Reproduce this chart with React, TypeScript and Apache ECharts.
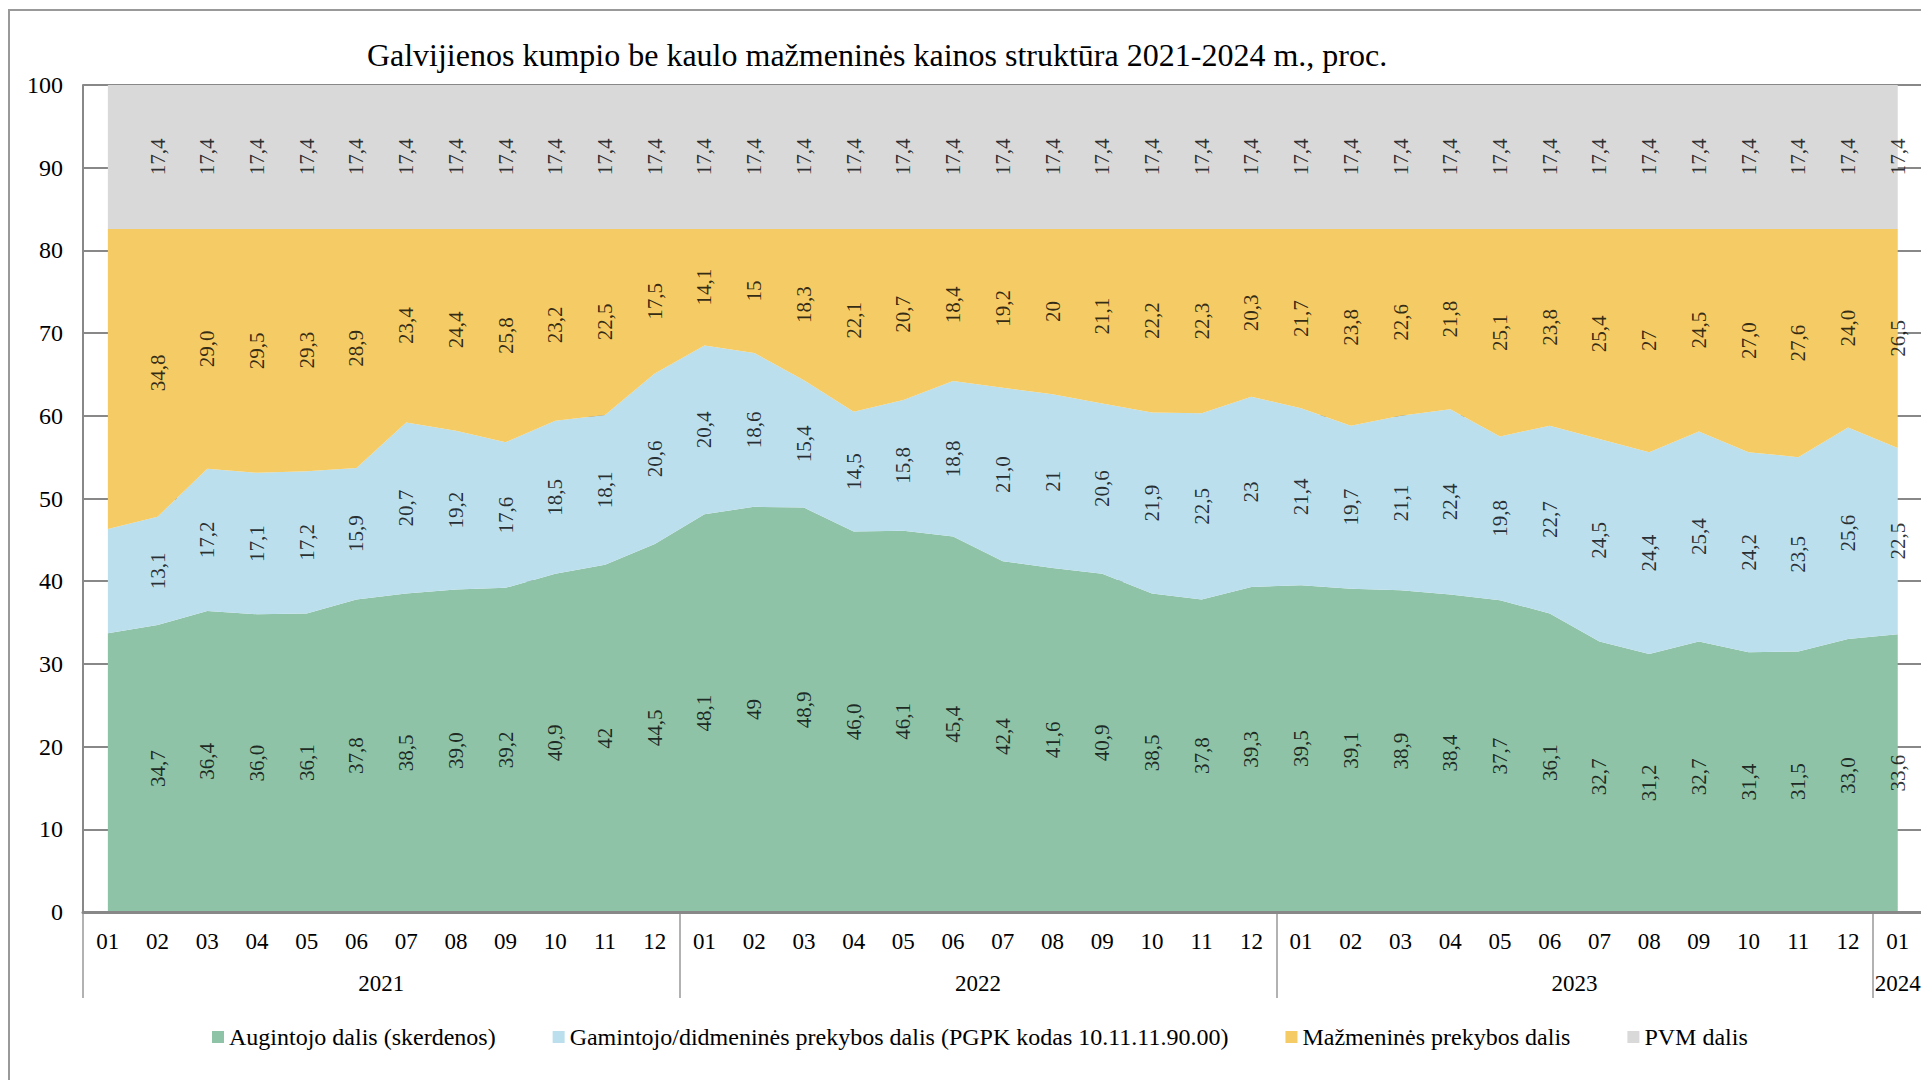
import React, { useEffect, useRef } from "react";
import * as echarts from "echarts";

// ---------- DATA ----------
const titleText = "Galvijienos kumpio be kaulo mažmeninės kainos struktūra 2021-2024 m., proc.";

const months = [
  "01", "02", "03", "04", "05", "06", "07", "08", "09", "10", "11", "12",
  "01", "02", "03", "04", "05", "06", "07", "08", "09", "10", "11", "12",
  "01", "02", "03", "04", "05", "06", "07", "08", "09", "10", "11", "12",
  "01",
];

const yearLabels = ["2021", "2022", "2023", "2024"];
// position of each year label and separators, in category units
const yearCenters = [6, 18, 30, 36.5];
const yearSeparators = [0, 12, 24, 36];

const seriesNames = [
  "Augintojo dalis (skerdenos)",
  "Gamintojo/didmeninės prekybos dalis (PGPK kodas 10.11.11.90.00)",
  "Mažmeninės prekybos dalis",
  "PVM dalis",
];

// values as printed in the chart (first month has no printed label)
const grower = [
  "33,7", "34,7", "36,4", "36,0", "36,1", "37,8", "38,5", "39,0", "39,2", "40,9", "42", "44,5",
  "48,1", "49", "48,9", "46,0", "46,1", "45,4", "42,4", "41,6", "40,9", "38,5", "37,8", "39,3",
  "39,5", "39,1", "38,9", "38,4", "37,7", "36,1", "32,7", "31,2", "32,7", "31,4", "31,5", "33,0",
  "33,6",
];
const producer = [
  "12,6", "13,1", "17,2", "17,1", "17,2", "15,9", "20,7", "19,2", "17,6", "18,5", "18,1", "20,6",
  "20,4", "18,6", "15,4", "14,5", "15,8", "18,8", "21,0", "21", "20,6", "21,9", "22,5", "23",
  "21,4", "19,7", "21,1", "22,4", "19,8", "22,7", "24,5", "24,4", "25,4", "24,2", "23,5", "25,6",
  "22,5",
];
const retail = [
  "36,3", "34,8", "29,0", "29,5", "29,3", "28,9", "23,4", "24,4", "25,8", "23,2", "22,5", "17,5",
  "14,1", "15", "18,3", "22,1", "20,7", "18,4", "19,2", "20", "21,1", "22,2", "22,3", "20,3",
  "21,7", "23,8", "22,6", "21,8", "25,1", "23,8", "25,4", "27", "24,5", "27,0", "27,6", "24,0",
  "26,5",
];
const vat = [
  "17,4", "17,4", "17,4", "17,4", "17,4", "17,4", "17,4", "17,4", "17,4", "17,4", "17,4", "17,4",
  "17,4", "17,4", "17,4", "17,4", "17,4", "17,4", "17,4", "17,4", "17,4", "17,4", "17,4", "17,4",
  "17,4", "17,4", "17,4", "17,4", "17,4", "17,4", "17,4", "17,4", "17,4", "17,4", "17,4", "17,4",
  "17,4",
];
const firstLabelledIndex = 1;

const colors = ["#8EC3A7", "#BCDFEE", "#F4CB65", "#D9D9D9"];
const FONT = "'Liberation Serif', 'Times New Roman', serif";

const toNum = (s: string) => parseFloat(s.replace(",", "."));

export default function App() {
  const ref = useRef<HTMLDivElement>(null);

  useEffect(() => {
    if (!ref.current) return;
    const chart = echarts.init(ref.current, undefined, { renderer: "svg" });

    const raw = [grower, producer, retail, vat];
    const nums = raw.map((arr) => arr.map(toNum));

    const areaSeries = nums.map((vals, k) => ({
      name: seriesNames[k],
      type: "line",
      stack: "total",
      data: vals,
      symbol: "none",
      showSymbol: false,
      silent: true,
      lineStyle: { width: 0 },
      itemStyle: { color: colors[k] },
      areaStyle: { color: colors[k], opacity: 1 },
      z: 2,
    }));

    // label series: mid-points of each band
    const cum = months.map(() => 0);
    const labelSeries = nums.map((vals, k) => {
      const data = vals.map((v, i) => {
        const mid = cum[i] + v / 2;
        cum[i] += v;
        return { value: [i, mid], text: i >= firstLabelledIndex ? raw[k][i] : "" };
      });
      return {
        name: "lbl" + k,
        type: "scatter",
        data,
        symbolSize: 1,
        silent: true,
        itemStyle: { color: "transparent" },
        label: {
          show: true,
          position: "inside",
          rotate: 90,
          color: "#000",
          fontFamily: FONT,
          fontSize: 21,
          formatter: (p: any) => p.data.text,
        },
        z: 5,
      };
    });

    const option: any = {
      animation: false,
      backgroundColor: "#fff",
      textStyle: { fontFamily: FONT },
      graphic: [
        {
          type: "rect",
          shape: { x: 9, y: 10, width: 3000, height: 3000 },
          style: { fill: "none", stroke: "#999", lineWidth: 2 },
          silent: true,
          z: -1,
        },
        {
          type: "text",
          x: 877,
          y: 55,
          style: {
            text: titleText,
            fontFamily: FONT,
            fontSize: 32,
            fill: "#000",
            textAlign: "center",
            textVerticalAlign: "middle",
          },
        },
      ],
      legend: {
        data: seriesNames,
        left: 212,
        top: 1025,
        padding: 0,
        itemGap: 57,
        itemWidth: 12,
        itemHeight: 12,
        icon: "rect",
        selectedMode: false,
        textStyle: { fontFamily: FONT, fontSize: 24, color: "#000" },
      },
      grid: {
        left: 83,
        top: 85,
        width: 1839.6,
        height: 827,
        containLabel: false,
        outerBoundsMode: "none",
      },
      xAxis: [
        {
          type: "category",
          data: months,
          boundaryGap: true,
          axisLine: { show: true, lineStyle: { color: "#888", width: 3 } },
          axisTick: { show: false },
          axisLabel: {
            interval: 0,
            margin: 18,
            color: "#000",
            fontFamily: FONT,
            fontSize: 23,
          },
          splitLine: { show: false },
          z: 10,
        },
        {
          type: "value",
          min: 0,
          max: months.length,
          position: "bottom",
          axisLine: { show: false },
          axisTick: {
            show: true,
            customValues: yearSeparators,
            length: 86,
            lineStyle: { color: "#999", width: 1.5 },
          },
          axisLabel: {
            show: true,
            customValues: yearCenters,
            margin: 60,
            color: "#000",
            fontFamily: FONT,
            fontSize: 23,
            formatter: (v: number) => {
              const idx = yearCenters.indexOf(v);
              return idx >= 0 ? yearLabels[idx] : "";
            },
          },
          splitLine: { show: false },
        },
      ],
      yAxis: {
        type: "value",
        min: 0,
        max: 100,
        interval: 10,
        axisLine: { show: true, lineStyle: { color: "#888", width: 2 } },
        axisTick: { show: false },
        axisLabel: {
          margin: 20,
          color: "#000",
          fontFamily: FONT,
          fontSize: 24,
        },
        splitLine: { show: true, lineStyle: { color: "#888", width: 2 } },
      },
      series: [
        ...areaSeries,
        ...labelSeries.map((s) => ({ ...s, xAxisIndex: 0 })),
      ],
    };

    chart.setOption(option);
    return () => chart.dispose();
  }, []);

  return (
    <div
      ref={ref}
      style={{ position: "fixed", left: 0, top: 0, width: 1921, height: 1080 }}
    />
  );
}
